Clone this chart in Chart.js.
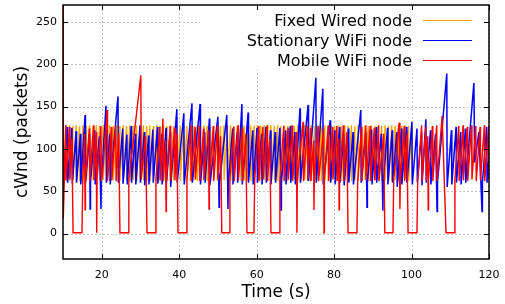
<!DOCTYPE html>
<html>
<head>
<meta charset="utf-8">
<script src="https://cdn.jsdelivr.net/npm/chart.js@4.4.1/dist/chart.umd.min.js"></script>
<style>
body { margin: 0; background: #fff; }
</style>
</head>
<body>
<canvas id="cwndChart" width="505" height="304"></canvas>
<script>
// axis ticks
var xTicks = [20, 40, 60, 80, 100, 120];
var yTicks = [0, 50, 100, 150, 200, 250];

var seriesNames = ['Fixed Wired node', 'Stationary WiFi node', 'Mobile WiFi node'];
var seriesColors = ['#ffa500', '#0000ff', '#ff0000'];

// [time (s), cWnd (packets)]
var fixedWired = [
  [10.00,63],[10.80,127],[10.85,62],[11.65,128],[11.70,62],[12.55,127],[12.60,63],[13.40,128],[13.45,62],[14.25,127],
  [14.30,62],[15.15,128],[15.20,63],[16.00,127],[16.05,62],[16.85,128],[16.90,62],[17.75,127],[17.80,63],[18.60,128],
  [18.65,62],[19.45,127],[19.50,62],[20.35,128],[20.40,63],[21.20,127],[21.25,62],[22.05,128],[22.10,62],[22.95,127],
  [23.00,63],[23.80,128],[23.85,62],[24.65,127],[24.70,62],[25.55,128],[25.60,63],[26.40,127],[26.45,62],[27.25,128],
  [27.30,62],[28.15,127],[28.20,63],[29.00,128],[29.05,62],[29.85,127],[29.90,62],[30.75,128],[30.80,63],[31.60,127],
  [31.65,62],[32.45,128],[32.50,62],[33.35,127],[33.40,63],[34.20,128],[34.25,62],[35.05,127],[35.10,62],[35.95,128],
  [36.00,63],[36.80,127],[36.85,62],[37.65,128],[37.70,62],[38.55,127],[38.60,63],[39.40,128],[39.45,62],[40.25,127],
  [40.30,62],[41.15,128],[41.20,63],[42.00,127],[42.05,62],[42.85,128],[42.90,62],[43.75,127],[43.80,63],[44.60,128],
  [44.65,62],[45.45,127],[45.50,62],[46.35,128],[46.40,63],[47.20,127],[47.25,62],[48.05,128],[48.10,62],[48.95,127],
  [49.00,63],[49.80,128],[49.85,62],[50.65,127],[50.70,62],[51.55,128],[51.60,63],[52.40,127],[52.45,62],[53.25,128],
  [53.30,62],[54.15,127],[54.20,63],[55.00,128],[55.05,62],[55.85,127],[55.90,62],[56.75,128],[56.80,63],[57.60,127],
  [57.65,62],[58.45,128],[58.50,62],[59.35,127],[59.40,63],[60.20,128],[60.25,62],[61.05,127],[61.10,62],[61.95,128],
  [62.00,63],[62.80,127],[62.85,62],[63.65,128],[63.70,62],[64.55,127],[64.60,63],[65.40,128],[65.45,62],[66.25,127],
  [66.30,62],[67.15,128],[67.20,63],[68.00,127],[68.05,62],[68.85,128],[68.90,62],[69.75,127],[69.80,63],[70.60,128],
  [70.65,62],[71.45,127],[71.50,62],[72.35,128],[72.40,63],[73.20,127],[73.25,62],[74.05,128],[74.10,62],[74.95,127],
  [75.00,63],[75.80,128],[75.85,62],[76.65,127],[76.70,62],[77.55,128],[77.60,63],[78.40,127],[78.45,62],[79.25,128],
  [79.30,62],[80.15,127],[80.20,63],[81.00,128],[81.05,62],[81.85,127],[81.90,62],[82.75,128],[82.80,63],[83.60,127],
  [83.65,62],[84.45,128],[84.50,62],[85.35,127],[85.40,63],[86.20,128],[86.25,62],[87.05,127],[87.10,62],[87.95,128],
  [88.00,63],[88.80,127],[88.85,62],[89.65,128],[89.70,62],[90.55,127],[90.60,63],[91.40,128],[91.45,62],[92.25,127],
  [92.30,62],[93.15,128],[93.20,63],[94.00,127],[94.05,62],[94.85,128],[94.90,62],[95.75,127],[95.80,63],[96.60,128],
  [96.65,62],[97.45,127],[97.50,62],[98.35,128],[98.40,63],[99.20,127],[99.25,62],[100.05,128],[100.10,62]
];

var stationaryWifi = [
  [10.0,62],[11.1,126],[11.2,60],[12.3,125],[12.4,59],[13.4,121],[13.5,60],[14.5,118],[14.6,58],[15.7,140],
  [15.8,60],[16.9,118],[17.0,29],[17.1,60],[18.2,122],[18.3,58],[19.4,115],[19.8,29],[19.9,60],[21.1,151],
  [21.2,60],[22.1,118],[22.2,58],[24.2,162],[24.3,60],[25.4,124],[25.5,59],[26.5,117],[26.6,58],[27.6,127],
  [27.7,60],[28.7,118],[28.8,58],[29.9,128],[30.0,60],[31.0,120],[31.1,57],[32.1,116],[32.2,58],[33.2,123],
  [33.3,60],[34.4,126],[34.5,59],[35.5,118],[35.6,58],[36.6,125],[36.7,60],[37.7,120],[37.8,55],[39.4,147],
  [39.5,60],[41.2,142],[41.3,58],[43.3,154],[43.4,60],[45.4,153],[45.5,58],[46.6,120],[46.7,60],[47.8,136],
  [47.9,57],[50.0,138],[50.3,31],[50.4,60],[52.3,140],[52.6,29],[52.7,60],[53.8,124],[53.9,58],[55.0,120],
  [55.1,60],[56.2,153],[56.3,58],[57.8,143],[57.9,60],[59.0,122],[59.1,58],[60.1,125],[60.2,60],[61.3,118],
  [61.4,58],[62.4,126],[62.5,60],[63.6,122],[63.7,58],[64.8,120],[64.9,60],[66.0,125],[66.3,28],[66.4,60],
  [67.5,122],[67.6,58],[68.7,127],[68.8,60],[69.9,120],[70.0,58],[71.2,148],[71.3,60],[73.3,152],[73.4,62],
  [75.3,184],[75.4,60],[77.1,171],[77.2,58],[79.0,134],[79.1,60],[80.2,122],[80.3,58],[81.4,126],[81.5,60],
  [82.5,118],[82.6,57],[83.7,124],[83.8,60],[84.9,120],[85.0,58],[86.9,146],[87.0,60],[88.2,120],[88.5,31],
  [88.6,60],[89.7,123],[89.8,58],[90.9,126],[91.0,60],[92.2,118],[92.6,27],[92.7,60],[93.8,125],[93.9,58],
  [95.0,122],[95.1,60],[96.2,120],[96.3,55],[97.4,124],[97.5,58],[98.7,126],[98.8,60],[100.1,132],[100.2,58],
  [101.4,124],[101.5,60],[102.6,120],[102.7,57],[103.7,135],[103.8,60],[104.9,122],[105.0,58],[106.2,118],[106.6,26],
  [106.7,60],[109.1,189],[109.2,55],[110.3,122],[110.4,58],[111.5,126],[111.6,60],[112.7,120],[112.8,58],[113.9,124],
  [114.0,60],[116.1,178],[116.3,84],[117.4,120],[118.2,26],[118.3,60],[119.4,126],[119.5,60],[120.0,90]
];

var mobileWifi = [
  [10.0,300],[10.08,18],[10.7,128],[10.75,63],[11.7,126],[11.8,64],[12.3,112],[12.6,1],[14.9,1],[15.1,64],
  [15.6,118],[15.7,28],[15.8,64],[16.8,124],[16.9,62],[17.9,128],[18.0,63],[18.6,120],[18.7,1],[18.8,64],
  [19.8,127],[19.9,62],[20.2,70],[21.4,146],[21.5,62],[22.5,126],[22.6,63],[23.6,128],[23.7,62],[24.4,118],
  [24.7,1],[26.8,1],[27.0,64],[28.6,126],[30.1,187],[30.2,64],[31.3,115],[31.7,1],[33.8,1],[34.0,64],
  [35.0,126],[35.1,63],[35.8,136],[35.9,62],[36.5,110],[36.6,26],[36.7,64],[37.7,127],[37.8,62],[38.8,125],
  [38.9,63],[39.4,118],[39.7,1],[41.8,1],[42.0,64],[43.0,128],[43.1,62],[44.1,126],[44.2,64],[45.2,127],
  [45.3,62],[46.3,124],[46.4,63],[47.6,122],[47.7,29],[47.8,64],[48.8,127],[48.9,62],[49.9,128],[50.0,64],
  [50.7,115],[51.0,1],[52.9,1],[53.1,64],[54.1,126],[54.2,62],[55.2,128],[55.3,63],[56.3,125],[56.4,62],
  [57.2,118],[57.5,1],[59.3,1],[59.5,64],[60.5,127],[60.6,62],[61.6,126],[61.7,64],[62.7,128],[62.8,62],
  [63.4,112],[63.7,1],[65.8,1],[66.0,64],[67.0,127],[67.1,62],[68.1,125],[68.2,64],[69.2,128],[69.3,62],
  [70.3,120],[70.4,1],[70.5,64],[72.0,132],[72.1,62],[73.1,127],[73.2,63],[73.9,125],[74.0,62],[74.7,110],
  [74.8,28],[74.9,64],[75.9,127],[76.0,62],[77.3,124],[77.4,1],[77.5,64],[78.5,128],[78.6,62],[79.6,126],
  [79.7,64],[80.7,127],[80.8,62],[81.2,112],[81.3,28],[81.4,64],[82.4,128],[82.5,62],[83.3,120],[83.6,1],
  [85.9,1],[86.1,64],[87.1,126],[87.2,62],[88.2,128],[88.3,64],[89.3,127],[89.4,62],[90.4,125],[90.5,63],
  [91.5,128],[91.6,62],[92.8,118],[93.1,1],[95.2,1],[95.4,64],[96.8,131],[97.0,29],[97.1,64],[98.1,127],
  [98.2,62],[98.8,118],[99.1,1],[101.4,1],[101.6,64],[102.6,128],[102.7,62],[103.7,126],[103.8,63],[104.2,115],
  [104.3,28],[104.4,64],[105.4,127],[105.5,62],[106.5,128],[106.6,62],[107.9,139],[108.9,1],[111.0,1],[111.2,64],
  [112.2,127],[112.3,62],[113.3,128],[113.4,63],[114.4,126],[114.5,62],[115.5,128],[115.6,64],[116.6,127],[116.7,62],
  [117.7,126],[117.8,63],[118.8,128],[118.9,62],[119.9,127],[120.0,64]
];

function toPoints(list) {
  return list.map(function (p) { return { x: p[0], y: p[1] }; });
}

// gnuplot style frame: dotted grid, key box, inward ticks, key
var gnuplotFrame = {
  id: 'gnuplotFrame',
  beforeDatasetsDraw: function (chart) {
    var ctx = chart.ctx, a = chart.chartArea;
    var sx = chart.scales.x, sy = chart.scales.y;
    ctx.save();
    ctx.strokeStyle = '#c8c8c8';
    ctx.lineWidth = 1;
    ctx.setLineDash([2, 2]);
    xTicks.forEach(function (v) {
      var px = Math.round(sx.getPixelForValue(v)) + 0.5;
      ctx.beginPath(); ctx.moveTo(px, a.top); ctx.lineTo(px, a.bottom); ctx.stroke();
    });
    yTicks.forEach(function (v) {
      var py = Math.round(sy.getPixelForValue(v)) + 0.5;
      ctx.beginPath(); ctx.moveTo(a.left, py); ctx.lineTo(a.right, py); ctx.stroke();
    });
    ctx.setLineDash([]);
    // key background
    ctx.fillStyle = '#ffffff';
    ctx.fillRect(200, a.top, a.right - 200, 65);
    ctx.restore();
  },
  afterDatasetsDraw: function (chart) {
    var ctx = chart.ctx, a = chart.chartArea;
    var sx = chart.scales.x, sy = chart.scales.y;
    ctx.save();
    ctx.strokeStyle = '#000';
    ctx.lineWidth = 1;
    xTicks.forEach(function (v) {
      var px = Math.round(sx.getPixelForValue(v)) + 0.5;
      ctx.beginPath();
      ctx.moveTo(px, a.bottom); ctx.lineTo(px, a.bottom - 5);
      ctx.moveTo(px, a.top); ctx.lineTo(px, a.top + 5);
      ctx.stroke();
    });
    yTicks.forEach(function (v) {
      var py = Math.round(sy.getPixelForValue(v)) + 0.5;
      ctx.beginPath();
      ctx.moveTo(a.left, py); ctx.lineTo(a.left + 5, py);
      ctx.moveTo(a.right, py); ctx.lineTo(a.right - 5, py);
      ctx.stroke();
    });
    ctx.lineWidth = 1.5;
    ctx.strokeRect(a.left, a.top, a.right - a.left, a.bottom - a.top);

    // key
    ctx.font = '16px "DejaVu Sans"';
    ctx.textAlign = 'right';
    ctx.textBaseline = 'middle';
    ctx.lineWidth = 1.2;
    chart.data.datasets.forEach(function (ds, i) {
      var y = a.top + 15.5 + i * 20;
      ctx.fillStyle = '#000';
      ctx.fillText(ds.label, a.right - 77, y + 1);
      ctx.strokeStyle = ds.borderColor;
      ctx.beginPath(); ctx.moveTo(a.right - 66, y); ctx.lineTo(a.right - 17, y); ctx.stroke();
    });
    ctx.restore();
  }
};

var ctxCwnd = document.getElementById('cwndChart').getContext('2d');
var cwndChart = new Chart(ctxCwnd, {
  type: 'line',
  data: {
    datasets: [{
      label: seriesNames[0],
      data: toPoints(fixedWired),
      borderColor: seriesColors[0],
      borderWidth: 1.3,
      order: 3
    }, {
      label: seriesNames[1],
      data: toPoints(stationaryWifi),
      borderColor: seriesColors[1],
      borderWidth: 1.5,
      order: 2
    }, {
      label: seriesNames[2],
      data: toPoints(mobileWifi),
      borderColor: seriesColors[2],
      borderWidth: 1.4,
      order: 1
    }]
  },
  options: {
    responsive: false,
    animation: false,
    devicePixelRatio: 1,
    layout: { padding: { top: 5, right: 16, left: 0, bottom: 0 } },
    elements: {
      point: { radius: 0 },
      line: { tension: 0, fill: false }
    },
    plugins: {
      legend: { display: false },
      tooltip: { enabled: false }
    },
    scales: {
      x: {
        type: 'linear',
        min: 10,
        max: 120,
        grid: { display: false, drawTicks: false },
        border: { display: false },
        afterBuildTicks: function (scale) {
          scale.ticks = xTicks.map(function (v) { return { value: v }; });
        },
        afterFit: function (scale) {
          scale.height = 45;
          scale.paddingLeft = 0;
          scale.paddingRight = 0;
        },
        ticks: {
          color: '#000',
          padding: 10,
          maxRotation: 0,
          font: { family: 'DejaVu Sans', size: 11 }
        },
        title: {
          display: true,
          text: 'Time (s)',
          color: '#000',
          padding: { top: 0, bottom: 1 },
          font: { family: 'DejaVu Sans', size: 17 }
        }
      },
      y: {
        min: -30,
        max: 270,
        grid: { display: false, drawTicks: false },
        border: { display: false },
        afterBuildTicks: function (scale) {
          scale.ticks = yTicks.map(function (v) { return { value: v }; });
        },
        afterFit: function (scale) {
          scale.width = 63;
          scale.paddingTop = 0;
          scale.paddingBottom = 0;
        },
        ticks: {
          color: '#000',
          padding: 6,
          font: { family: 'DejaVu Sans', size: 11 }
        },
        title: {
          display: true,
          text: 'cWnd (packets)',
          color: '#000',
          padding: { top: 12, bottom: 0 },
          font: { family: 'DejaVu Sans', size: 17 }
        }
      }
    }
  },
  plugins: [gnuplotFrame]
});
</script>
</body>
</html>
